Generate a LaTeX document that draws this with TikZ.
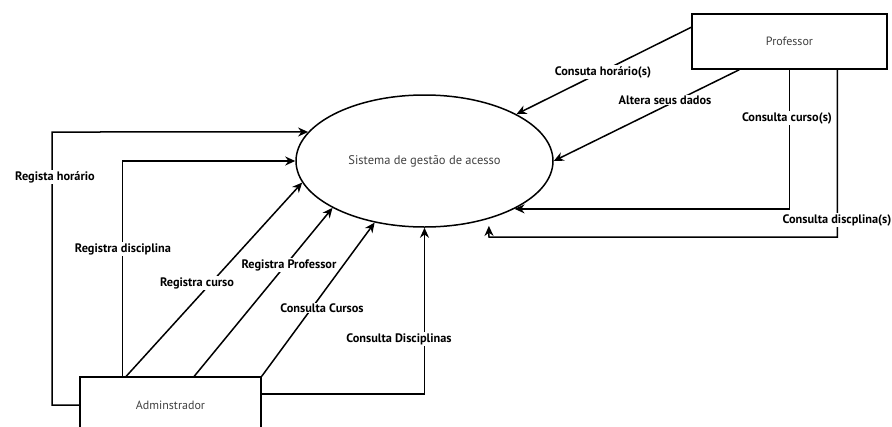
\documentclass[tikz,border=0pt]{standalone}
\usepackage{fontspec}
\setmainfont{PT Sans}
\usetikzlibrary{shapes.geometric,arrows.meta,calc}
\begin{document}
\begin{tikzpicture}[x=1pt,y=-1pt,
  flow/.style={draw=black,line width=1.5pt,-{Stealth[length=10pt,width=9pt]}},
  box/.style={draw=black,line width=1.5pt,rectangle,font=\fontsize{12}{14}\selectfont,text=black!75},
  lbl/.style={fill=white,inner sep=1pt,font=\bfseries\fontsize{12.3}{14}\selectfont,text=black}]
\useasboundingbox (0,0) rectangle (892,426);
\begin{scope}
\clip (0,0) rectangle (892,426);
\node[draw=black,line width=1.5pt,ellipse,minimum width=257pt,minimum height=132pt,inner sep=0pt,font=\fontsize{12.5}{14}\selectfont,text=black!75] (ell) at (424.5,161) {Sistema de gestão de acesso};
\node[box,minimum width=195pt,minimum height=55pt] (prof) at (789.5,41.5) {Professor};
\node[box,minimum width=181pt,minimum height=56pt] (adm) at (170.5,405) {Adminstrador};

\coordinate (c1) at (52,132);
\coordinate (k) at (489,237);

% Admin arrows
\draw[flow] (adm.west) -| (c1) -- (ell.166);
\draw[flow] ($(adm.north west)+(43,0)$) |- (ell.west);
\draw[flow] ($(adm.north west)+(47,0)$) -- (ell.190);
\draw[flow] ($(adm.north west)+(115,0)$) -- (ell.207);
\draw[flow] (adm.north east) -- (ell.231.6);
\draw[flow] ($(adm.east)+(0,-11)$) -| (ell.south);

% Professor arrows
\draw[flow] ($(prof.north west)+(0,14)$) -- (ell.27);
\draw[flow] ($(prof.south west)+(48,0)$) -- (ell.east);
\draw[flow] (prof.south) |- (ell.332.5);
\draw[flow,shorten >=7pt] ($(prof.south west)+(146,0)$) |- (k) -- (ell.318.5);

% labels
\node[lbl] (l1) at (55,177) {Regista horário};
\node[lbl] (l2) at (123,249) {Registra disciplina};
\node[lbl] (l3) at (197,283) {Registra curso};
\node[lbl] (l4) at (289,265) {Registra Professor};
\node[lbl] (l5) at (322,308) {Consulta Cursos};
\node[lbl] (l6) at (399,339) {Consulta Disciplinas};
\node[lbl] (l7) at (603,72) {Consuta horário(s)};
\node[lbl] (l8) at (665,100) {Altera seus dados};
\node[lbl] (l9) at (787,118) {Consulta curso(s)};
\node[lbl] (l10) at (837,220) {Consulta discplina(s)};
\end{scope}
\end{tikzpicture}
\end{document}
